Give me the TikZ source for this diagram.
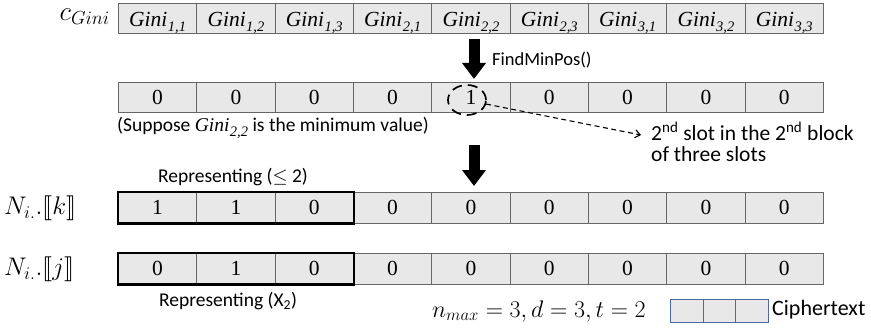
\RequirePackage{fix-cm}
\documentclass[tikz,border=0pt]{standalone}
\usepackage{fontspec}
\usepackage{amsmath}
\usepackage{stmaryrd}
\setmainfont{Liberation Serif}
\newfontfamily\calfont{Carlito}
\usetikzlibrary{arrows.meta,shapes.geometric}
\definecolor{cellfill}{HTML}{E8E8E8}
\definecolor{celldraw}{HTML}{666666}
\definecolor{cipherblue}{HTML}{4A68A6}
\newcommand\ginilab[1]{\textit{Gini}\kern0.5pt\raisebox{-5pt}{\fontsize{14.5}{14.5}\selectfont\textit{#1}}}
\tikzset{
  cell/.style={draw=celldraw, fill=cellfill, line width=0.9pt, minimum width=78.33pt,
    minimum height=30.5pt, inner sep=0pt, anchor=north west, font=\fontsize{21.5}{21.5}\selectfont},
  ginicell/.style={cell, font=\fontsize{21.5}{21.5}\selectfont, text height=16pt, text depth=0pt},
  thickbox/.style={draw=black, line width=2.4pt},
  bigarrow/.style={line width=11pt, -{Triangle[length=16pt,width=23pt]}},
  sans/.style={font=\calfont\fontsize{#1}{#1}\selectfont},
  mathlab/.style={font=\fontsize{#1}{#1}\selectfont, inner sep=0pt},
  legcell/.style={draw=cipherblue, fill=cellfill, line width=0.9pt, minimum width=32.7pt,
    minimum height=23pt, inner sep=0pt, anchor=north west},
}
\begin{document}
\begin{tikzpicture}[x=1pt,y=-1pt]
\useasboundingbox (0,0) rectangle (871,329);
% row 1
\foreach \i/\lab in {1/{1,1},2/{1,2},3/{1,3},4/{2,1},5/{2,2},6/{2,3},7/{3,1},8/{3,2},9/{3,3}}
  \node[ginicell] (r1c\i) at ({118+(\i-1)*78.33},3) {\ginilab{\lab}};
% row 2
\foreach \i/\v in {1/0,2/0,3/0,4/0,5/1,6/0,7/0,8/0,9/0}
  \node[cell] (r2c\i) at ({118+(\i-1)*78.33},82) {\v};
% row 3
\foreach \i/\v in {1/1,2/1,3/0,4/0,5/0,6/0,7/0,8/0,9/0}
  \node[cell] (r3c\i) at ({118+(\i-1)*78.33},192) {\v};
% row 4
\foreach \i/\v in {1/0,2/1,3/0,4/0,5/0,6/0,7/0,8/0,9/0}
  \node[cell] (r4c\i) at ({118+(\i-1)*78.33},253) {\v};
\draw[thickbox] (r3c1.north west) rectangle (r3c3.south east);
\draw[thickbox] (r4c1.north west) rectangle (r4c3.south east);
% row labels
\node[mathlab=27, anchor=east] (lcg) at (110,17) {$c_{Gini}$};
\node[mathlab=25.5, anchor=west] (lnk) at (4,208) {$N_{i.}.\llbracket k\rrbracket$};
\node[mathlab=25.5, anchor=west] (lnj) at (4,269) {$N_{i.}.\llbracket j\rrbracket$};
% arrows
\coordinate (a1s) at (474,39);
\coordinate (a1e) at (474,79);
\draw[bigarrow] (a1s) -- (a1e);
\node[sans=18.5, anchor=west, inner sep=0pt] (fmp) at (492,60) {FindMinPos()};
\coordinate (a2s) at (474,145);
\coordinate (a2e) at (474,186);
\draw[bigarrow] (a2s) -- (a2e);
% ellipse and annotation
\node[draw=black, ellipse, line width=1.7pt, dash pattern=on 10pt off 6pt,
  minimum width=38pt, minimum height=30pt, inner sep=0pt] (ell) at (467,100) {};
\coordinate (dte) at (641,135);
\draw[line width=1.1pt, dash pattern=on 5pt off 3.5pt, -{Straight Barb[length=5pt,width=8pt]}] (ell.-12) -- (dte);
\node[sans=21.5, anchor=north west, align=left, inner sep=0pt] (slot) at (651,122)
  {\fontsize{21.5}{26}\selectfont 2\textsuperscript{nd} slot in the 2\textsuperscript{nd} block\\of three slots};
\node[sans=19.5, anchor=west, inner sep=0pt] (sup) at (117,128)
  {(Suppose {\rmfamily\fontsize{19.5}{19.5}\selectfont\ginilab{2,2}} is the minimum value)};
\node[sans=19.5, inner sep=0pt] (rep1) at (233,177) {Representing ($\leq$ 2)};
\node[sans=19.5, inner sep=0pt] (rep2) at (228,301) {Representing (X\textsubscript{2})};
% legend
\node[mathlab=24, anchor=west] (params) at (432,311) {$n_{max}=3, d=3, t=2$};
\foreach \i in {1,2,3}
  \node[legcell] (lg\i) at ({670+(\i-1)*32.7},299) {};
\node[sans=22, anchor=west, inner sep=0pt] (ctext) at (772,310) {Ciphertext};
\end{tikzpicture}
\end{document}
